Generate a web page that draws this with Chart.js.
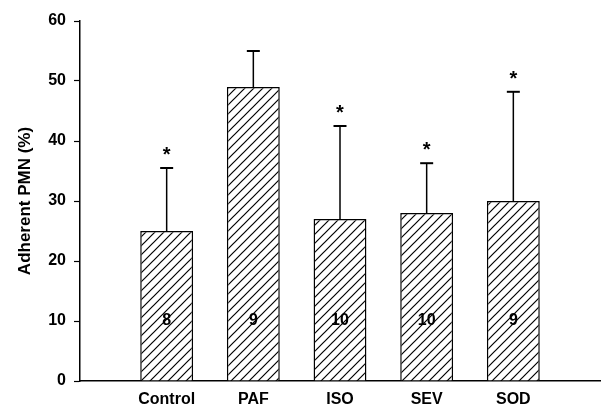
<!DOCTYPE html>
<html>
<head>
<meta charset="utf-8">
<script src="https://cdn.jsdelivr.net/npm/chart.js@4/dist/chart.umd.min.js"></script>
<style>
html,body{margin:0;padding:0;background:#fff;}
#wrap{width:601px;height:406px;position:relative;}
</style>
</head>
<body>
<div id="wrap"><canvas id="c" width="601" height="406"></canvas></div>
<script>
const categories = ['Control', 'PAF', 'ISO', 'SEV', 'SOD'];
const means = [25, 49, 27, 28, 30];
const sdUpper = [10.5, 6, 15.5, 8.3, 18.2];
const nValues = [8, 9, 10, 10, 9];
const significant = [true, false, true, true, true];
const yTicks = [0, 10, 20, 30, 40, 50, 60];

const labels = [''].concat(categories).concat(['']);
const barData = [null].concat(means).concat([null]);

function makeHatch() {
  const s = 9;
  const pc = document.createElement('canvas');
  pc.width = s; pc.height = s;
  const g = pc.getContext('2d');
  g.fillStyle = '#fff';
  g.fillRect(0, 0, s, s);
  g.strokeStyle = '#000';
  g.lineWidth = 1.2;
  g.beginPath();
  g.moveTo(0, s); g.lineTo(s, 0);
  g.moveTo(-2, 2); g.lineTo(2, -2);
  g.moveTo(s - 2, s + 2); g.lineTo(s + 2, s - 2);
  g.stroke();
  return g.createPattern(pc, 'repeat');
}

const ctx = document.getElementById('c').getContext('2d');
const hatch = makeHatch();
const FONT = "'Liberation Sans', Arial, sans-serif";

const annotPlugin = {
  id: 'annot',
  afterDatasetsDraw(chart) {
    const c = chart.ctx;
    const xs = chart.scales.x, ys = chart.scales.y;
    c.save();
    categories.forEach((cat, i) => {
      const x = xs.getPixelForValue(i + 1);
      const yTop = ys.getPixelForValue(means[i]);
      const yErr = ys.getPixelForValue(means[i] + sdUpper[i]);
      c.strokeStyle = '#000';
      c.lineWidth = 1.5;
      c.beginPath();
      c.moveTo(x, yTop); c.lineTo(x, yErr);
      c.stroke();
      c.lineWidth = 2;
      c.beginPath();
      c.moveTo(x - 6.5, yErr); c.lineTo(x + 6.5, yErr);
      c.stroke();
      c.fillStyle = '#000';
      c.textAlign = 'center';
      if (significant[i]) {
        c.font = 'bold 20px ' + FONT;
        c.textBaseline = 'alphabetic';
        c.fillText('*', x, yErr - 18 + 11);
      }
      c.font = 'bold 16px ' + FONT;
      c.textBaseline = 'middle';
      c.fillText(String(nValues[i]), x, ys.getPixelForValue(10));
    });
    c.restore();
  }
};

new Chart(ctx, {
  type: 'bar',
  data: {
    labels: labels,
    datasets: [{
      data: barData,
      backgroundColor: hatch,
      borderColor: '#000',
      borderWidth: 1.5,
      categoryPercentage: 1,
      barPercentage: 0.61
    }]
  },
  options: {
    responsive: false,
    animation: false,
    events: [],
    layout: { padding: { top: 21, right: 1, left: 0, bottom: 0 } },
    plugins: { legend: { display: false }, tooltip: { enabled: false } },
    scales: {
      x: {
        type: 'category',
        offset: false,
        grid: { display: false, drawTicks: false },
        border: { display: true, color: '#000', width: 1.5 },
        ticks: {
          color: '#000',
          font: { family: FONT, size: 16, weight: 'bold' },
          padding: 9,
          autoSkip: false,
          maxRotation: 0
        },
        afterFit(scale) { scale.height = 25; scale.paddingLeft = 0; scale.paddingRight = 0; }
      },
      y: {
        min: 0,
        max: 60,
        afterBuildTicks(scale) { scale.ticks = yTicks.map(v => ({ value: v })); },
        grid: { drawOnChartArea: false, drawTicks: true, tickLength: 6, color: '#000', tickWidth: 1.2 },
        border: { display: true, color: '#000', width: 1.5 },
        ticks: {
          color: '#000',
          font: { family: FONT, size: 16, weight: 'bold' },
          padding: 8
        },
        title: {
          display: true,
          text: 'Adherent PMN (%)',
          color: '#000',
          font: { family: FONT, size: 17, weight: 'bold' },
          padding: { top: 15, bottom: 0 }
        },
        afterFit(scale) { scale.width = 80; }
      }
    }
  },
  plugins: [annotPlugin]
});
</script>
</body>
</html>
